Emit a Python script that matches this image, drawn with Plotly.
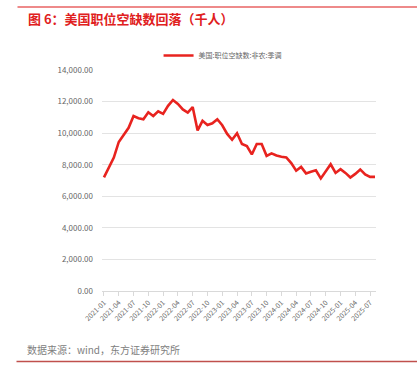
import plotly.graph_objects as go

months = [f"{y}-{m:02d}" for y in range(2021, 2026) for m in range(1, 13)][:56]
openings = [
    7200, 7800, 8450, 9440, 9880, 10340, 11080, 10940, 10880, 11320, 11090, 11380,
    11220, 11730, 12100, 11850, 11500, 11300, 11650, 10170, 10780, 10520, 10620, 10880,
    10500, 9950, 9580, 9990, 9310, 9180, 8650, 9310, 9310, 8560, 8720, 8580,
    8500, 8460, 8100, 7620, 7860, 7450, 7560, 7650, 7130, 7580, 8030, 7480,
    7720, 7480, 7190, 7420, 7700, 7380, 7230, 7230,
]
series_name = "美国:职位空缺数:非农:季调"
tick_vals = months[::3]
y_ticks = [0, 2000, 4000, 6000, 8000, 10000, 12000, 14000]

FONT = "Noto Sans CJK SC, Noto Sans, sans-serif"
PW, PH = 274.0, 220.7  # plot area size in px


def px_x(x):
    return (x - 102) / PW


def px_y(y):
    return (290.7 - y) / PH


def rule(x_start, x_end, y, color, width):
    return dict(text="", xref="paper", yref="paper",
                x=px_x(x_end), y=px_y(y), ax=-(x_end - x_start), ay=0,
                showarrow=True, arrowhead=0, arrowwidth=width, arrowcolor=color,
                standoff=0, startstandoff=0)


fig = go.Figure()
fig.add_trace(go.Scatter(
    x=months, y=openings, mode="lines", name=series_name,
    line=dict(color="#e8231f", width=2.6),
))

fig.update_layout(
    width=418, height=376,
    margin=dict(l=102, r=42, t=70, b=85, autoexpand=False),
    paper_bgcolor="white", plot_bgcolor="white",
    font=dict(family=FONT, color="#595959", size=8),
    showlegend=True,
    legend=dict(orientation="h", x=0.44, xanchor="center", y=1.0, yanchor="bottom",
                font=dict(size=7, color="#666666"), bgcolor="rgba(0,0,0,0)",
                itemwidth=30),
    xaxis=dict(
        type="category", range=[-0.4, 55.2], automargin=False,
        tickmode="array", tickvals=tick_vals, ticktext=tick_vals,
        tickangle=-45, tickfont=dict(size=7, color="#666666"),
        showgrid=False, showline=True, linecolor="#d9d9d9", linewidth=1,
        ticks="outside", ticklen=4, tickcolor="#d9d9d9",
    ),
    yaxis=dict(
        range=[0, 14000], tickvals=y_ticks, tickformat=",.2f", automargin=False,
        showgrid=True, gridcolor="#e3e3e3", gridwidth=1,
        zeroline=False, showline=False, ticks="",
        tickfont=dict(size=8, color="#666666"), ticklabelstandoff=8,
    ),
    annotations=[
        rule(16, 418, 7, "#ee8a8a", 2),
        rule(15, 418, 361, "#c0504d", 1.5),
        dict(text="<b>图 6：美国职位空缺数回落（千人）</b>", xref="paper", yref="paper",
             x=px_x(26), y=px_y(19), xanchor="left", yanchor="middle",
             showarrow=False, font=dict(size=13, color="#e02020", family=FONT)),
        dict(text="数据来源：wind，东方证券研究所", xref="paper", yref="paper",
             x=px_x(25), y=px_y(349), xanchor="left", yanchor="middle",
             showarrow=False, font=dict(size=10, color="#808080", family=FONT)),
    ],
)

fig.write_html(
    "out.html",
    config={"displayModeBar": False},
    post_script="document.body.style.margin='0';document.body.style.overflow='hidden';",
)
